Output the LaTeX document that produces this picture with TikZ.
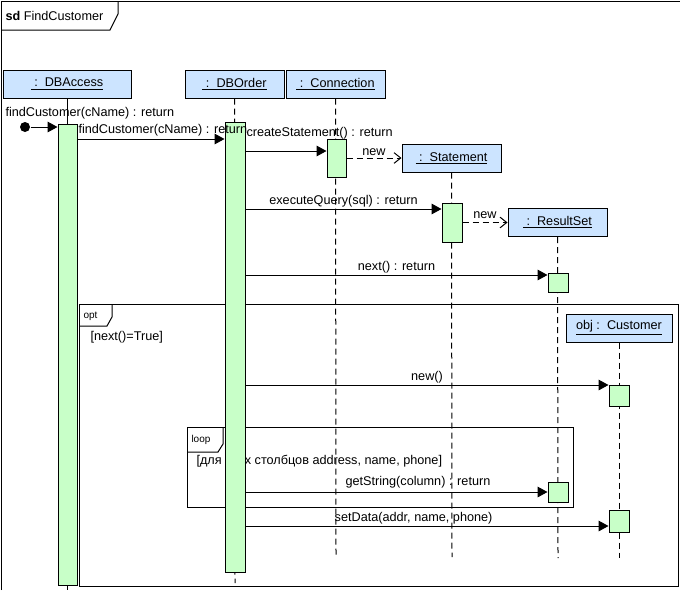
\documentclass[tikz,border=0pt]{standalone}
\usepackage{fontspec}
\setmainfont{Liberation Sans}
\usetikzlibrary{arrows.meta,fit}
\definecolor{headblue}{RGB}{204,228,255}
\definecolor{bargreen}{RGB}{200,255,200}
\newcommand{\objname}[2]{\underline{#1\ :\ \ #2}}

\begin{document}
\begin{tikzpicture}[x=0.75pt,y=-0.75pt,line width=0.75pt,
    font=\fontsize{9.5}{11}\selectfont,
    head/.style={draw,fill=headblue,minimum height=21pt,minimum width=74.25pt,inner sep=0pt},
    bar/.style={draw,fill=bargreen,inner sep=0pt},
    life/.style={dash pattern=on 4.5pt off 3pt},
    msg/.style={-{Triangle[length=7.5pt,width=8pt]}},
    create/.style={dash pattern=on 4.5pt off 3pt,-{Straight Barb[length=5pt,width=8pt]}},
    lbl/.style={inner sep=0pt,yshift=5.5pt},
    tab/.style={font=\fontsize{7.5}{9}\selectfont,anchor=west,inner sep=0pt}]
    \useasboundingbox (0,0) rectangle (680,590);

    % Diagram frame
    \draw (1,590) -- (1,1) -- (680,1);
    \draw (1,30) -- (110,30) -- (118,14) -- (118,1);
    \node[anchor=west,inner sep=0pt] (title) at (5,16) {\textbf{sd} FindCustomer};

    % opt fragment
    \draw (79,304) rectangle (678,586);
    \draw (79,326) -- (107,326) -- (112,317) -- (112,304);
    \node[tab] (optT) at (83,316) {opt};
    \node[anchor=west,inner sep=0pt] (optG) at (90,337) {[next()=True]};

    % loop fragment
    \draw (187,427) rectangle (573,507);
    \draw (187,452) -- (218,452) -- (223,444) -- (223,427);
    \node[tab] (loopT) at (191,440) {loop};
    \node[anchor=west,inner sep=0pt] (loopG) at (196,461) {[для всех столбцов address, name, phone]};

    % Objects
    \node[head,minimum width=96pt] (dba) at (67,84) {\objname{}{DBAccess}};
    \node[head] (dbo) at (234.5,84) {\objname{}{DBOrder}};
    \node[head] (con) at (335.5,84) {\objname{}{Connection}};
    \node[head] (stm) at (451.5,158) {\objname{}{Statement}};
    \node[head] (rs) at (557.5,222.5) {\objname{}{ResultSet}};
    \node[head,minimum width=79.5pt] (cus) at (619,328) {\objname{obj}{Customer}};

    % Lifelines
    \coordinate (dbaE) at (67,590);
    \coordinate (dboE) at (235,583);
    \coordinate (conE) at (336,557);
    \coordinate (stmE) at (452,557);
    \coordinate (rsE) at (558,558);
    \coordinate (cusE) at (619,558);
    \draw (dba.south) -- (dbaE);
    \draw[life] (dbo.south) -- (dboE);
    \draw[life] (con.south) -- (conE);
    \draw[life] (stm.south) -- (stmE);
    \draw[life] (rs.south) -- (rsE);
    \draw[life] (cus.south) -- (cusE);

    % Activations
    \node[bar,fit={(58,124) (77,585)}] (dbaB) {};
    \node[bar,fit={(225,122) (245,572)}] (dboB) {};
    \node[bar,fit={(327,139) (346,177)}] (conB) {};
    \node[bar,fit={(442,203) (462,242)}] (stmB) {};
    \node[bar,fit={(548,273) (568,292)}] (rsB1) {};
    \node[bar,fit={(609,385) (629,406)}] (cusB1) {};
    \node[bar,fit={(548,482) (568,502)}] (rsB2) {};
    \node[bar,fit={(609,510) (629,532)}] (cusB2) {};

    % Messages
    \node[circle,fill,inner sep=0pt,minimum size=7.5pt] (found) at (25,127) {};
    \coordinate (m1) at (0,139);
    \coordinate (m2) at (0,151);
    \coordinate (m3) at (0,209);
    \coordinate (m4) at (0,275);
    \coordinate (m5) at (0,385);
    \coordinate (m6) at (0,492);
    \coordinate (m7) at (0,526);
    \draw[msg] (found) -- (dbaB.west |- found);
    \node[anchor=west,inner sep=0pt] (foundL) at (5,113) {findCustomer(cName) : return};
    \draw[msg] (dbaB.east |- m1) -- (dboB.west |- m1);
    \node[anchor=west,inner sep=0pt] (m1L) at (78,130) {findCustomer(cName) : return};
    \draw[msg] (dboB.east |- m2) -- (conB.west |- m2);
    \node[anchor=west,inner sep=0pt] (m2L) at (246,133) {createStatement() : return};
    \draw[create] (conB.east |- stm.west) -- node[lbl,yshift=-1pt] {new} (stm.west);
    \draw[msg] (dboB.east |- m3) -- node[lbl] {executeQuery(sql) : return} (stmB.west |- m3);
    \draw[create] (stmB.east |- rs.west) -- node[lbl] {new} (rs.west);
    \draw[msg] (dboB.east |- m4) -- node[lbl] {next() : return} (rsB1.west |- m4);
    \draw[msg] (dboB.east |- m5) -- node[lbl] {new()} (cusB1.west |- m5);
    \draw[msg] (dboB.east |- m6) -- node[lbl,pos=.571,yshift=1.5pt] {getString(column) : return} (rsB2.west |- m6);
    \draw[msg] (dboB.east |- m7) -- node[lbl,pos=.463] {setData(addr, name, phone)} (cusB2.west |- m7);
\end{tikzpicture}
\end{document}
